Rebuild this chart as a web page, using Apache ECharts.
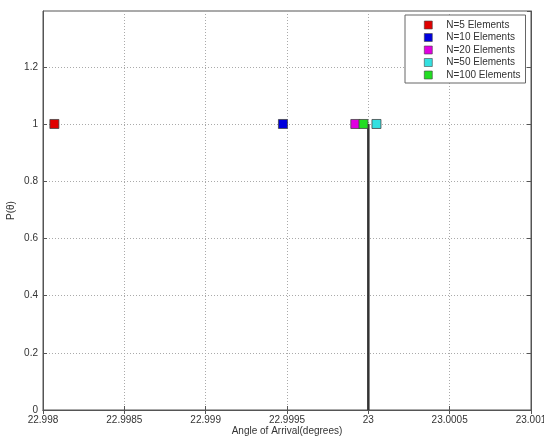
<!DOCTYPE html>
<html>
<head>
<meta charset="utf-8">
<script src="https://cdn.jsdelivr.net/npm/echarts@6/dist/echarts.min.js"></script>
<style>html,body{margin:0;padding:0;background:#fff;}#c{width:544px;height:439px;}</style>
</head>
<body>
<div id="c"></div>
<script>
const seriesNames = ['N=5 Elements', 'N=10 Elements', 'N=20 Elements', 'N=50 Elements', 'N=100 Elements'];
const seriesX = [22.99807, 22.999475, 22.99992, 23.00005, 22.99997];
const seriesY = [1, 1, 1, 1, 1];
const seriesColors = ['#e00000', '#0000dd', '#e000e0', '#33e0e0', '#22dd22'];
const trueAngle = [[23, 0], [23, 1]];
const xTicks = [22.998, 22.9985, 22.999, 22.9995, 23, 23.0005, 23.001];
const yTicks = [0, 0.2, 0.4, 0.6, 0.8, 1, 1.2];

const chart = echarts.init(document.getElementById('c'));
const font = 'Liberation Sans, Arial, sans-serif';
const series = [{
  type: 'line', name: 'true', data: trueAngle, showSymbol: false, symbol: 'none',
  lineStyle: { color: '#333', width: 2.5 }, z: 1, silent: true
}];
seriesNames.forEach((n, i) => {
  series.push({
    type: 'scatter', name: n, data: [[seriesX[i], seriesY[i]]],
    symbol: 'rect', symbolSize: 9,
    itemStyle: { color: seriesColors[i], borderColor: '#444', borderWidth: 0.8, opacity: 1 },
    z: 3
  });
});
const axisCommon = {
  axisLine: { show: true, lineStyle: { color: '#555', width: 1 } },
  axisTick: { show: true, inside: true, length: 4, lineStyle: { color: '#555' } },
};
chart.setOption({
  animation: false,
  backgroundColor: '#fff',
  grid: { left: 43, right: 13, top: 11, bottom: 29, show: true, borderColor: '#555', borderWidth: 1,
    containLabel: false, outerBoundsMode: 'none' },
  legend: {
    data: seriesNames, orient: 'vertical', left: 405, top: 15,
    itemWidth: 8, itemHeight: 8, itemGap: 2.5, icon: 'rect',
    padding: [5, 5, 3, 19], backgroundColor: '#fff', borderColor: '#666', borderWidth: 1,
    textStyle: { fontFamily: font, fontSize: 10, color: '#333', lineHeight: 10, padding: [0, 0, 0, 9] },
    itemStyle: { borderColor: '#444', borderWidth: 0.6 }
  },
  xAxis: [{
    type: 'value', min: xTicks[0], max: xTicks[xTicks.length - 1], interval: 0.0005,
    name: 'Angle of Arrival(degrees)', nameLocation: 'middle', nameGap: 16, nameMoveOverlap: false,
    nameTextStyle: { fontFamily: font, fontSize: 10, color: '#333' },
    ...axisCommon,
    axisLabel: { fontFamily: font, fontSize: 10, color: '#333', margin: 5,
      formatter: v => String(+v.toFixed(4)) },
    splitLine: { show: true, lineStyle: { color: '#aaa', type: [1, 2], width: 1 } }
  }, {
    type: 'value', position: 'top', min: xTicks[0], max: xTicks[xTicks.length - 1], interval: 0.0005,
    ...axisCommon, axisLabel: { show: false }, splitLine: { show: false }
  }],
  yAxis: [{
    type: 'value', min: 0, max: 1.395, interval: 0.2,
    name: 'P(θ)', nameLocation: 'middle', nameGap: 27, nameMoveOverlap: false,
    nameTextStyle: { fontFamily: font, fontSize: 10, color: '#333' },
    ...axisCommon,
    axisLabel: { fontFamily: font, fontSize: 10, color: '#333', margin: 5, showMaxLabel: false,
      formatter: v => (yTicks.some(t => Math.abs(t - v) < 1e-9) ? String(+v.toFixed(1)) : '') },
    splitLine: { show: true, lineStyle: { color: '#aaa', type: [1, 2], width: 1 } }
  }, {
    type: 'value', position: 'right', min: 0, max: 1.395, interval: 0.2,
    ...axisCommon, axisLabel: { show: false }, splitLine: { show: false }
  }],
  series: series
});
</script>
</body>
</html>
